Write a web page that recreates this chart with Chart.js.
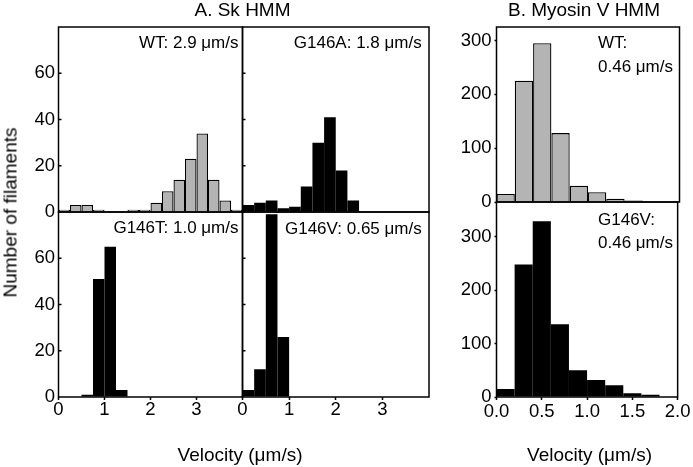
<!DOCTYPE html>
<html><head><meta charset="utf-8">
<script src="https://cdn.jsdelivr.net/npm/chart.js@4.4.1/dist/chart.umd.min.js"></script>
<style>
html,body{margin:0;padding:0;background:#fff;}
#wrap{position:relative;width:693px;height:467px;overflow:hidden;font-family:"Liberation Sans",Arial,sans-serif;color:#000;}
canvas{position:absolute;left:0;top:0;}
.t{position:absolute;white-space:nowrap;}
.title{font-size:19px;line-height:19px;height:19px;width:200px;text-align:center;}
.ann{font-size:17px;line-height:17px;}
</style></head><body>
<div id="wrap">
<canvas id="aUL" width="693" height="467"></canvas>
<canvas id="aUR" width="693" height="467"></canvas>
<canvas id="aLL" width="693" height="467"></canvas>
<canvas id="aLR" width="693" height="467"></canvas>
<canvas id="bU" width="693" height="467"></canvas>
<canvas id="bL" width="693" height="467"></canvas>
<div class="t title" style="left:142.5px;top:0px;">A. Sk HMM</div>
<div class="t title" style="left:484px;top:0px;">B. Myosin V HMM</div>
<div class="t title" style="left:140px;top:445px;">Velocity (μm/s)</div>
<div class="t title" style="left:489.5px;top:445px;">Velocity (μm/s)</div>
<div class="t title" style="left:-140px;top:202.5px;width:300px;transform:rotate(-90deg);">Number of filaments</div>
<div class="t ann" style="right:454.5px;top:33.6px;">WT: 2.9 μm/s</div>
<div class="t ann" style="right:271.3px;top:33.6px;">G146A: 1.8 μm/s</div>
<div class="t ann" style="right:454.5px;top:218.6px;">G146T: 1.0 μm/s</div>
<div class="t ann" style="right:271.3px;top:219.6px;">G146V: 0.65 μm/s</div>
<div class="t ann" style="left:598px;top:31.1px;line-height:24px;">WT:<br>0.46 μm/s</div>
<div class="t ann" style="left:598px;top:207.6px;line-height:23px;">G146V:<br>0.46 μm/s</div>
</div>
<script>
// ---- data ----
const binEdgesA = [0, 0.25, 0.5, 0.75, 1, 1.25, 1.5, 1.75, 2, 2.25, 2.5, 2.75, 3, 3.25, 3.5, 3.75];
const binWidthA = 0.25;
const skWT    = [1, 3, 3, 1, 0, 0, 1, 1, 4, 9, 14, 23, 34, 14, 5, 1];
const skG146A = [3, 4, 5, 1.6, 2.3, 11, 30, 41, 18, 5, 0, 0, 0, 0, 0, 0];
const skG146T = [0, 0, 1, 51, 65, 3, 0, 0, 0, 0, 0, 0, 0, 0, 0, 0];
const skG146V = [3, 12, 79, 26, 0, 0, 0, 0, 0, 0, 0, 0, 0, 0, 0, 0];
const binEdgesB = [0, 0.2, 0.4, 0.6, 0.8, 1.0, 1.2, 1.4, 1.6, 1.8];
const binWidthB = 0.2;
const myoWT    = [15, 225, 295, 128, 30, 18, 6, 3, 0, 0];
const myoG146V = [15, 248, 329, 136, 50, 32, 22, 7, 4, 0];
const yTicksA = [0, 20, 40, 60];
const xTicksA = [0, 1, 2, 3];
const yTicksB = [0, 100, 200, 300];
const xTicksB = [0, 0.5, 1.0, 1.5, 2.0];

const W = 693, H = 467;
const AXW = 50, AXH = 40;
const FONT = '"Liberation Sans", Arial, sans-serif';
const TICKSIZE = 18.5;
const GREY = '#b4b4b4';

const framePlugin = {
  id: 'frame',
  afterDatasetsDraw(chart) {
    const {ctx, chartArea: a} = chart;
    ctx.save();
    ctx.strokeStyle = '#000';
    ctx.lineWidth = 1.5;
    ctx.strokeRect(a.left, a.top, a.right - a.left, a.bottom - a.top);
    ctx.restore();
  }
};
const innerTicksPlugin = {
  id: 'innerTicks',
  afterDatasetsDraw(chart, args, opts) {
    if (!opts || !opts.len) return;
    const {ctx, chartArea: a} = chart;
    const y = chart.scales.y;
    ctx.save();
    ctx.strokeStyle = '#000';
    ctx.lineWidth = 1.5;
    ctx.beginPath();
    for (const t of y.ticks) {
      const py = y.getPixelForValue(t.value);
      if (py >= a.bottom - 1) continue;
      ctx.moveTo(a.left, py);
      ctx.lineTo(a.left + opts.len, py);
    }
    ctx.stroke();
    ctx.restore();
  }
};

function makeChart(id, o) {
  const a = o.area;
  const yw = o.yLabels ? AXW : 0;
  const xh = o.xLabels ? AXH : 0;
  return new Chart(document.getElementById(id), {
    type: 'bar',
    data: {
      datasets: [{
        data: o.edges.map((e, i) => ({x: e + o.bw / 2, y: o.values[i]})),
        backgroundColor: o.fill,
        borderColor: '#000',
        borderWidth: o.border,
        borderSkipped: 'start',
        barPercentage: 1,
        categoryPercentage: 1,
        inflateAmount: 0
      }]
    },
    options: {
      responsive: false,
      animation: false,
      devicePixelRatio: 1,
      events: [],
      layout: {padding: {left: a[0] - yw, top: a[1], right: W - a[2], bottom: H - a[3] - xh}},
      plugins: {
        legend: {display: false},
        tooltip: {enabled: false},
        innerTicks: {len: o.innerTicks || 0}
      },
      scales: {
        x: {
          type: 'linear', min: 0, max: o.xmax, offset: false,
          display: o.xLabels,
          afterFit: s => { s.height = xh; },
          afterBuildTicks: s => { s.ticks = o.xTicks.map(v => ({value: v})); },
          grid: {offset: false, drawOnChartArea: false, drawTicks: true, tickLength: 3, tickWidth: 1.5, tickColor: '#000'},
          border: {display: false},
          ticks: {
            color: '#000', font: {family: FONT, size: TICKSIZE, lineHeight: 1},
            padding: o.xPad, maxRotation: 0, autoSkip: false,
            callback: v => o.xFmt(v)
          }
        },
        y: {
          type: 'linear', min: 0, max: o.ymax,
          afterFit: s => { s.width = yw; },
          afterBuildTicks: s => { s.ticks = o.yTicks.map(v => ({value: v})); },
          grid: {drawOnChartArea: false, drawTicks: o.yOutTicks, tickLength: 2, tickWidth: 1.5, tickColor: '#000'},
          border: {display: false},
          ticks: {
            display: o.yLabels, color: '#000', font: {family: FONT, size: TICKSIZE, lineHeight: 1},
            padding: o.yPad, autoSkip: false
          }
        }
      }
    },
    plugins: [framePlugin, innerTicksPlugin]
  });
}

const fmtA = v => String(v);
const fmtB = v => v.toFixed(1);

makeChart('aUL', {area: [58.5, 27, 242.5, 212], edges: binEdgesA, bw: binWidthA, values: skWT, fill: GREY, border: 1.3,
  xmax: 4, ymax: 80, xTicks: xTicksA, yTicks: yTicksA, xLabels: false, yLabels: true, yOutTicks: false, xPad: 1, yPad: 3.5, xFmt: fmtA, innerTicks: 3});
makeChart('aUR', {area: [242.5, 27, 429, 212], edges: binEdgesA, bw: binWidthA, values: skG146A, fill: '#000', border: 0,
  xmax: 4, ymax: 80, xTicks: xTicksA, yTicks: yTicksA, xLabels: false, yLabels: false, yOutTicks: false, xPad: 1, yPad: 3.5, xFmt: fmtA, innerTicks: 3});
makeChart('aLL', {area: [58.5, 212, 242.5, 397], edges: binEdgesA, bw: binWidthA, values: skG146T, fill: '#000', border: 0,
  xmax: 4, ymax: 80, xTicks: xTicksA, yTicks: yTicksA, xLabels: true, yLabels: true, yOutTicks: false, xPad: 1, yPad: 3.5, xFmt: fmtA, innerTicks: 3});
makeChart('aLR', {area: [242.5, 212, 429, 397], edges: binEdgesA, bw: binWidthA, values: skG146V, fill: '#000', border: 0,
  xmax: 4, ymax: 80, xTicks: xTicksA, yTicks: yTicksA, xLabels: true, yLabels: false, yOutTicks: false, xPad: 1, yPad: 3.5, xFmt: fmtA, innerTicks: 3});
makeChart('bU', {area: [496.5, 27, 679.5, 202], edges: binEdgesB, bw: binWidthB, values: myoWT, fill: GREY, border: 1.3,
  xmax: 2, ymax: 325, xTicks: xTicksB, yTicks: yTicksB, xLabels: false, yLabels: true, yOutTicks: true, xPad: 2.5, yPad: 3, xFmt: fmtB});
makeChart('bL', {area: [496.5, 202, 679.5, 397], edges: binEdgesB, bw: binWidthB, values: myoG146V, fill: '#000', border: 0,
  xmax: 2, ymax: 365, xTicks: xTicksB, yTicks: yTicksB, xLabels: true, yLabels: true, yOutTicks: true, xPad: 2.5, yPad: 3, xFmt: fmtB});
</script>
</body></html>
